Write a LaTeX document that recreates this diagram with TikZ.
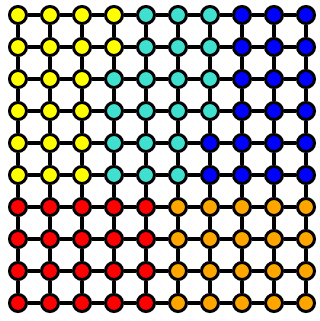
\documentclass[tikz,border=0pt]{standalone}
\usepackage{tikz}
\definecolor{Y}{RGB}{255,255,0}
\definecolor{C}{RGB}{64,224,208}
\definecolor{B}{RGB}{0,0,255}
\definecolor{R}{RGB}{255,0,0}
\definecolor{O}{RGB}{255,165,0}
\tikzset{
  site/.style={circle,draw=black,line width=3pt,minimum size=17pt,inner sep=0pt},
  bond/.style={black,line width=3.4pt}
}
\begin{document}
\begin{tikzpicture}[x=1pt,y=1pt]
        \useasboundingbox (0,0) rectangle (320,321);
        \def\sp{32}
        % sites, colour by row (top to bottom)
        \foreach \rowcols [count=\r] in {
            {Y,Y,Y,Y,C,C,C,B,B,B},
            {Y,Y,Y,Y,C,C,C,B,B,B},
            {Y,Y,Y,C,C,C,C,B,B,B},
            {Y,Y,Y,C,C,C,C,B,B,B},
            {Y,Y,Y,C,C,C,B,B,B,B},
            {Y,Y,Y,C,C,C,B,B,B,B},
            {R,R,R,R,R,O,O,O,O,O},
            {R,R,R,R,R,O,O,O,O,O},
            {R,R,R,R,R,O,O,O,O,O},
            {R,R,R,R,R,O,O,O,O,O}} {
          \foreach \col [count=\k] in \rowcols {
            \node[site,fill=\col] (n-\r-\k) at ({18+\sp*(\k-1)},{306-\sp*(\r-1)}) {};
          }
        }
        % horizontal bonds
        \foreach \r in {1,...,10} {
          \foreach \k [evaluate=\k as \kk using int(\k+1)] in {1,...,9} {
            \draw[bond] (n-\r-\k) -- (n-\r-\kk);
          }
        }
        % vertical bonds
        \foreach \k in {1,...,10} {
          \foreach \r [evaluate=\r as \rr using int(\r+1)] in {1,...,9} {
            \draw[bond] (n-\r-\k) -- (n-\rr-\k);
          }
        }
      \end{tikzpicture}
\end{document}
